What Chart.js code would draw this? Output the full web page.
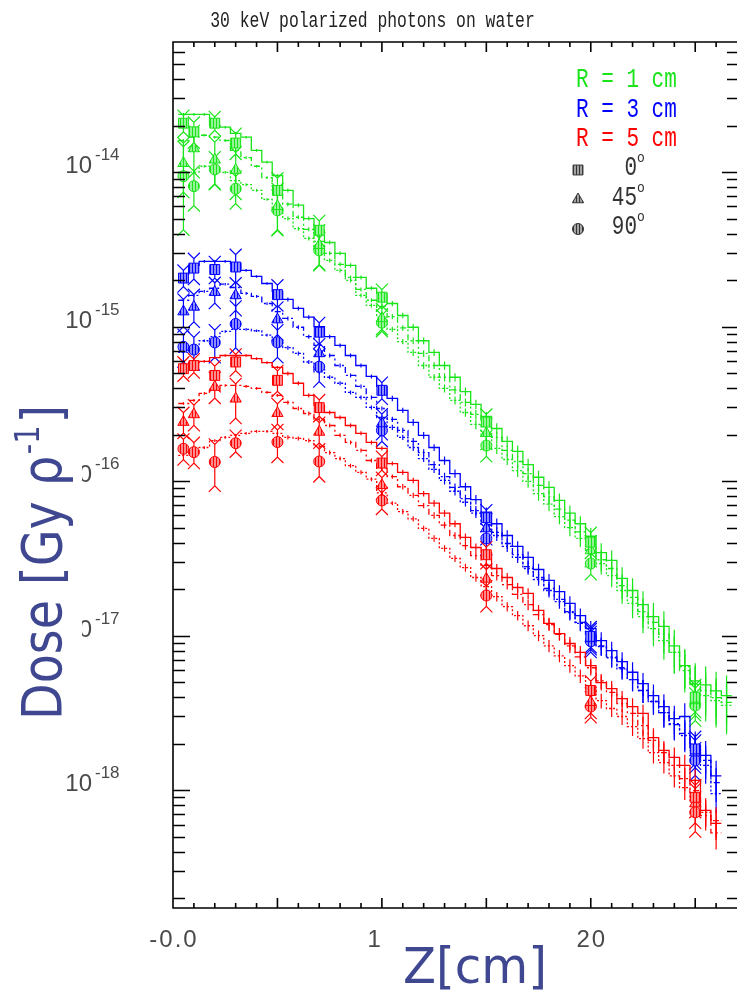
<!DOCTYPE html>
<html>
<head>
<meta charset="utf-8">
<script src="https://cdn.jsdelivr.net/npm/chart.js@4.4.1/dist/chart.umd.min.js"></script>
<style>
  html, body { margin: 0; padding: 0; background: #fff; }
</style>
</head>
<body>
<canvas id="doseChart" width="745" height="995"></canvas>
<script>
// ================= DATA =================
// histogram bin centres (cm), bins are 0.5 cm wide
const binCenters = [0.5, 1, 1.5, 2, 2.5, 3, 3.5, 4, 4.5, 5, 5.5, 6, 6.5, 7, 7.5, 8, 8.5, 9, 9.5, 10,
  10.5, 11, 11.5, 12, 12.5, 13, 13.5, 14, 14.5, 15, 15.5, 16, 16.5, 17, 17.5, 18, 18.5, 19, 19.5, 20,
  20.5, 21, 21.5, 22, 22.5, 23, 23.5, 24, 24.5, 25, 25.5, 26, 26.5];
const binHalf = 0.25;

// depths of the marker points (cm)
const markerZ = [0.5, 1, 2, 3, 5, 7, 10, 15, 20, 25];

// histograms, R = 1 cm (green)
const histG0 = [2.36e-14, 2.36e-14, 2.36e-14, 2.0e-14, 1.95e-14, 1.78e-14, 1.68e-14, 1.38e-14, 1.16e-14, 9.5e-15,
  7.6e-15, 6.1e-15, 5.0e-15, 4.2e-15, 3.5e-15, 2.98e-15, 2.49e-15, 2.08e-15, 1.77e-15, 1.64e-15,
  1.41e-15, 1.18e-15, 9.9e-16, 8.1e-16, 6.8e-16, 5.6e-16, 4.7e-16, 3.8e-16, 3.14e-16, 2.62e-16,
  2.19e-16, 1.81e-16, 1.56e-16, 1.28e-16, 1.06e-16, 9.1e-17, 7.5e-17, 6.2e-17, 5.3e-17, 4.4e-17,
  3.45e-17, 3.07e-17, 2.35e-17, 1.96e-17, 1.59e-17, 1.33e-17, 1.15e-17, 8.6e-18, 6.4e-18, 5.1e-18,
  4.8e-18, 4.4e-18, 4.1e-18];
const histG45 = [1.60e-14, 1.68e-14, 1.73e-14, 1.68e-14, 1.60e-14, 1.38e-14, 1.24e-14, 1.09e-14, 9.2e-15, 7.7e-15,
  6.2e-15, 5.1e-15, 4.26e-15, 3.56e-15, 2.98e-15, 2.53e-15, 2.08e-15, 1.74e-15, 1.48e-15, 1.35e-15,
  1.16e-15, 9.8e-16, 8.1e-16, 6.7e-16, 5.6e-16, 4.7e-16, 3.9e-16, 3.23e-16, 2.7e-16, 2.26e-16,
  1.92e-16, 1.58e-16, 1.34e-16, 1.12e-16, 9.4e-17, 7.9e-17, 6.6e-17, 5.6e-17, 4.7e-17, 3.9e-17,
  3.1e-17, 2.72e-17, 2.11e-17, 1.77e-17, 1.43e-17, 1.22e-17, 1.02e-17, 7.8e-18, 5.95e-18, 4.83e-18,
  4.42e-18, 3.98e-18, 3.7e-18];
const histG90 = [1.0e-14, 1.0e-14, 1.09e-14, 1.06e-14, 9.95e-15, 8.8e-15, 8.3e-15, 7.6e-15, 6.65e-15, 5.8e-15,
  5.0e-15, 4.3e-15, 3.72e-15, 3.16e-15, 2.68e-15, 2.31e-15, 1.99e-15, 1.59e-15, 1.37e-15, 1.15e-15,
  9.6e-16, 8.0e-16, 6.8e-16, 5.6e-16, 4.7e-16, 3.98e-16, 3.33e-16, 2.78e-16, 2.33e-16, 1.95e-16,
  1.63e-16, 1.38e-16, 1.17e-16, 9.95e-17, 8.3e-17, 7.1e-17, 5.9e-17, 5.0e-17, 4.26e-17, 3.56e-17,
  2.93e-17, 2.45e-17, 1.96e-17, 1.62e-17, 1.33e-17, 1.11e-17, 9.3e-18, 7.8e-18, 6.3e-18, 4.9e-18,
  4.1e-18, 3.8e-18, 3.54e-18];

// histograms, R = 3 cm (blue)
const histB0 = [2.18e-15, 2.49e-15, 2.64e-15, 2.64e-15, 2.64e-15, 2.56e-15, 2.31e-15, 2.11e-15, 1.90e-15, 1.69e-15,
  1.50e-15, 1.31e-15, 1.15e-15, 1.0e-15, 8.6e-16, 7.55e-16, 6.5e-16, 5.6e-16, 4.76e-16, 4.1e-16,
  3.43e-16, 2.87e-16, 2.4e-16, 1.98e-16, 1.65e-16, 1.36e-16, 1.12e-16, 9.2e-17, 7.6e-17, 6.3e-17,
  5.3e-17, 4.45e-17, 3.78e-17, 3.21e-17, 2.68e-17, 2.28e-17, 1.93e-17, 1.62e-17, 1.35e-17, 1.11e-17,
  9.3e-18, 8.0e-18, 6.8e-18, 5.8e-18, 4.9e-18, 4.1e-18, 3.48e-18, 2.91e-18, 3.0e-18, 1.95e-18,
  1.68e-18, 1.24e-18];
const histB45 = [1.48e-15, 1.59e-15, 1.69e-15, 1.77e-15, 1.88e-15, 1.79e-15, 1.64e-15, 1.57e-15, 1.41e-15, 1.25e-15,
  1.13e-15, 9.9e-16, 8.6e-16, 7.55e-16, 6.5e-16, 5.6e-16, 4.83e-16, 4.1e-16, 3.48e-16, 2.95e-16,
  2.51e-16, 2.13e-16, 1.81e-16, 1.53e-16, 1.28e-16, 1.07e-16, 9.1e-17, 7.7e-17, 6.45e-17, 5.5e-17,
  4.66e-17, 3.95e-17, 3.35e-17, 2.8e-17, 2.38e-17, 2.02e-17, 1.72e-17, 1.43e-17, 1.22e-17, 1.02e-17,
  8.6e-18, 7.3e-18, 6.2e-18, 5.2e-18, 4.42e-18, 3.75e-18, 3.18e-18, 2.66e-18, 2.33e-18, 1.86e-18,
  1.56e-18, 1.12e-18];
const histB90 = [6.8e-16, 7.55e-16, 8.1e-16, 8.6e-16, 9.3e-16, 9.6e-16, 9.6e-16, 9.4e-16, 8.8e-16, 8.0e-16,
  7.3e-16, 6.7e-16, 5.9e-16, 5.1e-16, 4.7e-16, 4.3e-16, 3.75e-16, 3.48e-16, 3.0e-16, 2.58e-16,
  2.23e-16, 1.92e-16, 1.65e-16, 1.40e-16, 1.19e-16, 1.01e-16, 8.6e-17, 7.3e-17, 6.2e-17, 5.25e-17,
  4.45e-17, 3.78e-17, 3.21e-17, 2.72e-17, 2.31e-17, 1.96e-17, 1.66e-17, 1.41e-17, 1.2e-17, 1.02e-17,
  8.5e-18, 7.2e-18, 6.1e-18, 5.2e-18, 4.42e-18, 3.75e-18, 3.18e-18, 2.7e-18, 2.26e-18, 1.81e-18,
  1.45e-18, 9.5e-19];

// histograms, R = 5 cm (red)
const histR0 = [5.5e-16, 5.85e-16, 5.95e-16, 6.3e-16, 6.5e-16, 6.5e-16, 6.5e-16, 6.2e-16, 5.85e-16, 5.45e-16,
  4.97e-16, 4.3e-16, 3.59e-16, 3.09e-16, 2.78e-16, 2.58e-16, 2.29e-16, 2.04e-16, 1.78e-16, 1.63e-16,
  1.30e-16, 1.14e-16, 1.01e-16, 8.3e-17, 7.2e-17, 6.2e-17, 5.3e-17, 4.32e-17, 3.72e-17, 3.45e-17,
  2.72e-17, 2.38e-17, 2.05e-17, 1.88e-17, 1.46e-17, 1.2e-17, 1.03e-17, 8.9e-18, 7.8e-18, 6.4e-18,
  4.97e-18, 4.55e-18, 3.92e-18, 3.48e-18, 3.14e-18, 2.19e-18, 1.81e-18, 1.63e-18, 1.45e-18, 1.16e-18,
  7.4e-19, 6.1e-19];
const histR45 = [3.18e-16, 3.33e-16, 3.7e-16, 3.92e-16, 4.16e-16, 4.16e-16, 4.1e-16, 3.98e-16, 3.75e-16, 3.59e-16,
  3.23e-16, 2.95e-16, 2.74e-16, 2.51e-16, 2.29e-16, 1.98e-16, 1.78e-16, 1.58e-16, 1.36e-16, 1.21e-16,
  1.07e-16, 9.2e-17, 8.1e-17, 6.95e-17, 6.0e-17, 5.2e-17, 4.45e-17, 3.83e-17, 3.3e-17, 2.85e-17,
  2.45e-17, 2.14e-17, 1.85e-17, 1.59e-17, 1.37e-17, 1.18e-17, 1.02e-17, 8.6e-18, 7.3e-18, 6.2e-18,
  5.1e-18, 4.3e-18, 3.64e-18, 3.14e-18, 2.62e-18, 2.1e-18, 1.75e-18, 1.45e-18, 1.19e-18, 9.95e-19,
  6.85e-19, 5.3e-19];
const histR90 = [1.47e-16, 1.58e-16, 1.65e-16, 1.83e-16, 1.92e-16, 1.98e-16, 2.04e-16, 2.1e-16, 2.1e-16, 2.04e-16,
  1.92e-16, 1.89e-16, 1.83e-16, 1.68e-16, 1.53e-16, 1.4e-16, 1.26e-16, 1.14e-16, 1.03e-16, 8.4e-17,
  7.2e-17, 6.35e-17, 5.7e-17, 4.94e-17, 4.26e-17, 3.67e-17, 3.16e-17, 2.76e-17, 2.38e-17, 2.08e-17,
  1.79e-17, 1.54e-17, 1.35e-17, 1.16e-17, 1.0e-17, 8.6e-18, 7.4e-18, 6.4e-18, 5.5e-18, 4.55e-18,
  3.8e-18, 3.38e-18, 3.0e-18, 2.58e-18, 2.16e-18, 1.75e-18, 1.51e-18, 1.24e-18, 1.04e-18, 8.6e-19,
  7.2e-19, 6.35e-19];

// relative statistical errors of the histogram bins
const histErrG = [0.02, 0.02, 0.02, 0.02, 0.02, 0.02, 0.02, 0.02, 0.02, 0.02,
  0.03, 0.03, 0.03, 0.03, 0.03, 0.03, 0.03, 0.03, 0.03, 0.03,
  0.04, 0.04, 0.05, 0.05, 0.05, 0.06, 0.06, 0.06, 0.07, 0.07,
  0.08, 0.08, 0.09, 0.09, 0.1, 0.1, 0.11, 0.12, 0.12, 0.13,
  0.15, 0.16, 0.18, 0.2, 0.22, 0.23, 0.25, 0.27, 0.28, 0.3,
  0.32, 0.33, 0.35];
const histErrB = [0.02, 0.02, 0.02, 0.02, 0.02, 0.02, 0.02, 0.02, 0.02, 0.02,
  0.03, 0.03, 0.03, 0.03, 0.03, 0.03, 0.03, 0.03, 0.03, 0.03,
  0.04, 0.04, 0.05, 0.05, 0.05, 0.06, 0.06, 0.06, 0.07, 0.07,
  0.08, 0.08, 0.08, 0.09, 0.09, 0.1, 0.1, 0.11, 0.11, 0.12,
  0.13, 0.14, 0.15, 0.16, 0.17, 0.18, 0.2, 0.21, 0.22, 0.23,
  0.24, 0.25];
const histErrR = [0.02, 0.02, 0.02, 0.02, 0.02, 0.02, 0.02, 0.02, 0.02, 0.02,
  0.03, 0.03, 0.03, 0.03, 0.03, 0.03, 0.03, 0.03, 0.03, 0.03,
  0.03, 0.04, 0.04, 0.04, 0.05, 0.05, 0.05, 0.06, 0.06, 0.06,
  0.07, 0.07, 0.07, 0.08, 0.08, 0.09, 0.09, 0.1, 0.1, 0.11,
  0.11, 0.12, 0.12, 0.13, 0.14, 0.15, 0.15, 0.16, 0.17, 0.18,
  0.2, 0.22];

// marker points (0 deg squares, 45 deg triangles, 90 deg circles)
const markG0 = [2.07e-14, 1.82e-14, 2.07e-14, 1.54e-14, 7.6e-15, 4.2e-15, 1.55e-15, 2.41e-16, 4.03e-17, 4.0e-18];
const markG45 = [1.14e-14, 1.42e-14, 1.20e-14, 1.03e-14, 6.0e-15, 3.36e-15, 1.13e-15, 2.04e-16, 3.56e-17, 3.81e-18];
const markG90 = [9.4e-15, 8.1e-15, 1.04e-14, 7.8e-15, 5.65e-15, 3.11e-15, 1.06e-15, 1.70e-16, 2.93e-17, 3.53e-18];
const markB0 = [2.06e-15, 2.39e-15, 2.34e-15, 2.43e-15, 1.61e-15, 9.2e-16, 3.87e-16, 5.8e-17, 9.9e-18, 1.85e-18];
const markB45 = [1.25e-15, 1.34e-15, 1.67e-15, 1.59e-15, 1.11e-15, 6.7e-16, 2.36e-16, 4.94e-17, 9.6e-18, 1.75e-18];
const markB90 = [7.4e-16, 7.1e-16, 7.9e-16, 1.04e-15, 7.9e-16, 5.5e-16, 2.13e-16, 4.26e-17, 9.2e-18, 1.56e-18];
const markR0 = [5.34e-16, 5.6e-16, 4.83e-16, 5.9e-16, 4.49e-16, 2.99e-16, 1.31e-16, 3.34e-17, 4.42e-18, 9.0e-19];
const markR45 = [2.41e-16, 2.70e-16, 4.06e-16, 3.41e-16, 2.75e-16, 2.08e-16, 9.4e-17, 2.33e-17, 3.71e-18, 8.2e-19];
const markR90 = [1.62e-16, 1.54e-16, 1.33e-16, 1.76e-16, 1.79e-16, 1.34e-16, 7.5e-17, 1.82e-17, 3.48e-18, 7.2e-19];

// relative errors of the marker points
const errG0 = [0.12, 0.15, 0.1, 0.15, 0.2, 0.15, 0.12, 0.12, 0.15, 0.2];
const errG45 = [0.35, 0.3, 0.3, 0.3, 0.3, 0.25, 0.15, 0.15, 0.15, 0.2];
const errG90 = [0.55, 0.25, 0.2, 0.2, 0.25, 0.2, 0.12, 0.15, 0.15, 0.2];
const errB0 = [0.12, 0.15, 0.12, 0.2, 0.15, 0.15, 0.12, 0.12, 0.15, 0.2];
const errB45 = [0.2, 0.2, 0.15, 0.2, 0.2, 0.15, 0.15, 0.15, 0.15, 0.2];
const errB90 = [0.2, 0.2, 0.2, 0.3, 0.2, 0.2, 0.15, 0.15, 0.15, 0.2];
const errR0 = [0.1, 0.1, 0.15, 0.12, 0.15, 0.12, 0.1, 0.12, 0.15, 0.2];
const errR45 = [0.15, 0.15, 0.15, 0.25, 0.15, 0.15, 0.12, 0.15, 0.15, 0.25];
const errR90 = [0.15, 0.15, 0.3, 0.12, 0.2, 0.2, 0.12, 0.15, 0.15, 0.25];

// axis ticks and texts
const xTickValues = [0, 10, 20];
const xTickLabels = ["-0.0", "10", "20"];
const yTickExps = [-14, -15, -16, -17, -18];
const radiusLabels = ["R = 1 cm", "R = 3 cm", "R = 5 cm"];
const angleLabels = ["0", "45", "90"];
const chartTitle = "30 keV polarized photons on water";

// ================= STYLE =================
const GREEN = "rgb(25,228,25)";
const BLUE = "rgb(0,0,255)";
const RED = "rgb(255,0,0)";
const INK = "#3e4790";
const DASH45 = [6, 3, 2, 3];
const DASH90 = [2, 2];

function hatch(color) {
  const c = document.createElement("canvas");
  c.width = 3; c.height = 3;
  const g = c.getContext("2d");
  g.fillStyle = "#fff";
  g.fillRect(0, 0, 3, 3);
  g.fillStyle = color;
  g.globalAlpha = 0.45;
  g.fillRect(0, 0, 3, 3);
  g.globalAlpha = 1;
  g.fillRect(0, 0, 1, 3);
  return g.createPattern(c, "repeat");
}

const series = [
  { hist: histG0, hErr: histErrG, mark: markG0, err: errG0, color: GREEN, dash: [], style: "rect" },
  { hist: histG45, hErr: histErrG, mark: markG45, err: errG45, color: GREEN, dash: DASH45, style: "triangle" },
  { hist: histG90, hErr: histErrG, mark: markG90, err: errG90, color: GREEN, dash: DASH90, style: "circle" },
  { hist: histB0, hErr: histErrB, mark: markB0, err: errB0, color: BLUE, dash: [], style: "rect" },
  { hist: histB45, hErr: histErrB, mark: markB45, err: errB45, color: BLUE, dash: DASH45, style: "triangle" },
  { hist: histB90, hErr: histErrB, mark: markB90, err: errB90, color: BLUE, dash: DASH90, style: "circle" },
  { hist: histR0, hErr: histErrR, mark: markR0, err: errR0, color: RED, dash: [], style: "rect" },
  { hist: histR45, hErr: histErrR, mark: markR45, err: errR45, color: RED, dash: DASH45, style: "triangle" },
  { hist: histR90, hErr: histErrR, mark: markR90, err: errR90, color: RED, dash: DASH90, style: "circle" }
];

const radiusFor = { rect: 7, triangle: 6.5, circle: 5.5 };

// ================= DATASETS =================
const datasets = [];
series.forEach(s => {
  const pts = s.hist.map((v, i) => ({ x: binCenters[i] - binHalf, y: v }));
  const last = s.hist.length - 1;
  pts.push({ x: binCenters[last] + binHalf, y: s.hist[last] });

  datasets.push({
    type: "line",
    data: pts,
    stepped: "before",
    borderColor: s.color,
    borderWidth: 1.3,
    borderDash: s.dash,
    pointRadius: 0,
    fill: false,
    order: 2,
    errKind: "hist",
    errPoints: s.hist.map((v, i) => ({ x: binCenters[i], y: v, e: s.hErr[i] }))
  });

  datasets.push({
    type: "scatter",
    showLine: false,
    data: markerZ.map((z, i) => ({ x: z, y: s.mark[i] })),
    pointStyle: s.style,
    pointRadius: radiusFor[s.style],
    backgroundColor: hatch(s.color),
    borderColor: s.color,
    borderWidth: 1,
    order: 0,
    errKind: "mark",
    errPoints: markerZ.map((z, i) => ({ x: z, y: s.mark[i], e: s.err[i] }))
  });
});

// ================= PLUGINS =================
const errorBars = {
  id: "errorBars",
  beforeDatasetsDraw(chart) {
    const { ctx, chartArea: a, scales: { x, y } } = chart;
    ctx.save();
    ctx.beginPath();
    ctx.rect(a.left, a.top, a.right - a.left, a.bottom - a.top);
    ctx.clip();
    ctx.setLineDash([]);
    ctx.lineWidth = 1.2;
    chart.data.datasets.forEach(ds => {
      ctx.strokeStyle = ds.borderColor;
      ctx.beginPath();
      ds.errPoints.forEach(p => {
        const px = x.getPixelForValue(p.x);
        const top = y.getPixelForValue(p.y * (1 + p.e));
        const bot = y.getPixelForValue(p.y * (1 - p.e));
        ctx.moveTo(px, top);
        ctx.lineTo(px, bot);
        if (ds.errKind === "mark") {
          ctx.moveTo(px - 6, top - 6); ctx.lineTo(px, top); ctx.lineTo(px + 6, top - 6);
          ctx.moveTo(px - 6, bot + 6); ctx.lineTo(px, bot); ctx.lineTo(px + 6, bot + 6);
        }
      });
      ctx.stroke();
    });
    ctx.restore();
  }
};

function drawScaled(ctx, text, x, y, sx, sy, align) {
  ctx.save();
  ctx.translate(x, y);
  ctx.scale(sx, sy);
  ctx.textAlign = align || "left";
  ctx.fillText(text, 0, 0);
  ctx.restore();
}

const frame = {
  id: "frame",
  afterDraw(chart) {
    const { ctx, chartArea: a, scales: { x, y } } = chart;
    ctx.save();
    ctx.setLineDash([]);
    ctx.strokeStyle = "#000";
    ctx.lineWidth = 1.6;

    // frame and ticks
    ctx.beginPath();
    ctx.moveTo(a.right, a.top); ctx.lineTo(a.left, a.top);
    ctx.lineTo(a.left, a.bottom); ctx.lineTo(a.right, a.bottom);
    for (let z = 1; z < x.max; z++) {
      const px = x.getPixelForValue(z);
      const len = z % 5 === 0 ? 10 : 5;
      ctx.moveTo(px, a.bottom); ctx.lineTo(px, a.bottom - len);
      ctx.moveTo(px, a.top); ctx.lineTo(px, a.top + len);
    }
    for (let e = -19; e <= -14; e++) {
      for (let m = 1; m <= 9; m++) {
        const v = m * Math.pow(10, e);
        if (v < y.min || v > y.max) continue;
        const py = Math.round(y.getPixelForValue(v)) + 0.5;
        const major = m === 1;
        ctx.moveTo(a.left, py); ctx.lineTo(a.left + (major ? 17 : 12), py);
        ctx.moveTo(a.right, py); ctx.lineTo(a.right - (major ? 15 : 10), py);
      }
    }
    ctx.stroke();

    // y tick labels
    ctx.fillStyle = "#4a4a4a";
    yTickExps.forEach(e => {
      const py = y.getPixelForValue(Math.pow(10, e));
      ctx.font = '24px "Liberation Sans"';
      ctx.textAlign = "right";
      ctx.fillText("10", 92, py + 1);
      ctx.font = '17px "Liberation Sans"';
      ctx.textAlign = "left";
      ctx.fillText(String(e), 95, py - 12);
    });

    // x tick labels
    ctx.font = '24px "Liberation Sans"';
    ctx.textAlign = "center";
    ctx.letterSpacing = "2px";
    xTickValues.forEach((v, i) => {
      ctx.fillText(xTickLabels[i], x.getPixelForValue(v) + 1, 947);
    });
    ctx.letterSpacing = "0px";

    // y axis title on its white box
    ctx.fillStyle = "#fff";
    ctx.fillRect(0, 398, 82, 327);
    ctx.save();
    ctx.translate(61, 720);
    ctx.rotate(-Math.PI / 2);
    const big = '56px "DejaVu Sans"', small = '34px "DejaVu Sans"';
    ctx.font = big;
    const w1 = ctx.measureText("Dose [Gy \u03c1").width;
    const w3 = ctx.measureText("]").width;
    ctx.font = small;
    const w2 = ctx.measureText("-1").width;
    ctx.scale(315 / (w1 + w2 + w3 + 4), 1);
    ctx.fillStyle = INK;
    ctx.textAlign = "left";
    ctx.font = big;
    ctx.fillText("Dose [Gy \u03c1", 0, 0);
    ctx.font = small;
    ctx.fillText("-1", w1 + 2, -22);
    ctx.font = big;
    ctx.fillText("]", w1 + w2 + 4, 0);
    ctx.restore();

    // x axis title on its white box
    ctx.fillStyle = "#fff";
    ctx.fillRect(383, 922, 182, 73);
    ctx.fillStyle = INK;
    ctx.font = '50px "DejaVu Sans"';
    const wz = ctx.measureText("Z[cm]").width;
    drawScaled(ctx, "Z[cm]", 403, 983, 144 / wz, 1);

    // title
    ctx.fillStyle = "#222";
    ctx.font = '16.4px "Liberation Mono"';
    drawScaled(ctx, chartTitle, 372.5, 27, 1, 1.35, "center");

    // legend: radii
    ctx.font = '21px "Liberation Mono"';
    [GREEN, BLUE, RED].forEach((c, i) => {
      ctx.fillStyle = c;
      drawScaled(ctx, radiusLabels[i], 576, 87 + i * 29.5, 1, 1.3);
    });

    // legend: angles
    const legendRows = [170, 199.5, 229];
    const styles = ["rect", "triangle", "circle"];
    const textRight = 637;
    styles.forEach((st, i) => {
      const cy = legendRows[i];
      ctx.fillStyle = hatch("#333");
      ctx.strokeStyle = "#333";
      ctx.lineWidth = 1;
      Chart.helpers.drawPoint(ctx, { pointStyle: st, radius: radiusFor[st], borderWidth: 1, rotation: 0 }, 578, cy);
      ctx.fillStyle = "#333";
      ctx.font = '21px "Liberation Mono"';
      drawScaled(ctx, angleLabels[i], textRight, cy + 5, 1, 1.3, "right");
      ctx.font = '13px "Liberation Mono"';
      drawScaled(ctx, "o", textRight, cy - 8, 1, 1.1);
    });

    ctx.restore();
  }
};

// ================= CHART =================
new Chart(document.getElementById("doseChart"), {
  type: "line",
  data: { datasets },
  options: {
    responsive: false,
    animation: false,
    events: [],
    layout: { padding: { left: 173, top: 42, right: 0, bottom: 87 } },
    plugins: { legend: { display: false }, tooltip: { enabled: false } },
    scales: {
      x: { type: "linear", min: 0, max: 27, display: false },
      y: { type: "logarithmic", min: 1.73e-19, max: 6.94e-14, display: false }
    }
  },
  plugins: [errorBars, frame]
});
</script>
</body>
</html>
